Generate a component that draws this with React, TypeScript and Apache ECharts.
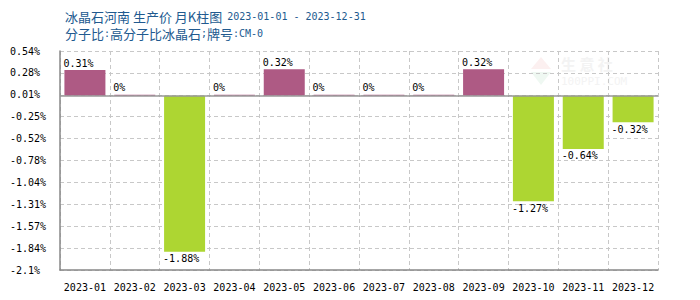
import React, { useEffect, useRef } from "react";
import * as echarts from "echarts";

const categories = ["2023-01","2023-02","2023-03","2023-04","2023-05","2023-06","2023-07","2023-08","2023-09","2023-10","2023-11","2023-12"];
const values = [0.31, 0, -1.88, 0, 0.32, 0, 0, 0, 0.32, -1.27, -0.64, -0.32];
const yTickLabels = ["-2.1%","-1.84%","-1.57%","-1.31%","-1.04%","-0.78%","-0.52%","-0.25%","0.01%","0.28%","0.54%"];
const yMin = -2.1;
const yMax = 0.54;
const titleMain = "冰晶石河南 生产价 月K柱图";
const titleDates = "2023-01-01 - 2023-12-31";
const subtitleParts = ["分子比", ":", "高分子比冰晶石", ";", "牌号", ":CM-0"];

const MONO = "'DejaVu Sans Mono', 'Liberation Mono', monospace";
const CJK = "'Noto Sans CJK SC', sans-serif";
const POS = "#ae5a84";
const NEG = "#add632";
const BAR_W = 41;
const TITLE_C = "#215a8f";

export default function App() {
  const ref = useRef<HTMLDivElement>(null);
  useEffect(() => {
    if (!ref.current) return;
    const chart = echarts.init(ref.current, null, { renderer: "svg" });
    const sub = subtitleParts
      .map((p, i) => (i % 2 === 0 ? `{c|${p}}` : `{m|${p}}`))
      .join("");
    const rich = {
      c: { fontFamily: CJK, fontSize: 13, fontWeight: "normal", color: TITLE_C },
      m: { fontFamily: MONO, fontSize: 10, fontWeight: "normal", color: TITLE_C },
    };
    chart.setOption({
      animation: false,
      title: [
        { left: 60, top: 2, text: `{c|${titleMain}} {m|${titleDates}}`, textStyle: { fontWeight: "normal", rich } },
        { left: 60, top: 22, text: sub, textStyle: { fontWeight: "normal", rich } },
      ],
      graphic: [
        {
          type: "polygon",
          silent: true,
          shape: { points: [[541, 57], [551, 69], [531, 69]] },
          style: { fill: "#fcf0f0" },
        },
        {
          type: "polygon",
          silent: true,
          shape: { points: [[531, 72], [551, 72], [541, 85]] },
          style: { fill: "#eff8f2" },
        },
        {
          type: "text",
          silent: true,
          x: 561,
          y: 56,
          style: { text: "生 意 社", font: `bold 15px ${CJK}`, fill: "#f3f3f3" },
        },
        {
          type: "text",
          silent: true,
          x: 561,
          y: 76,
          style: { text: "100PPI.COM", font: `11px ${MONO}`, fill: "#f3f3f3" },
        },
      ],
      grid: { left: 60, right: 42, top: 51, bottom: 30 },
      xAxis: {
        type: "category",
        data: categories,
        axisLine: { onZero: false, lineStyle: { color: "#888", width: 1.5 } },
        axisTick: { show: false },
        axisLabel: { fontFamily: MONO, fontSize: 10, color: "#000", margin: 12, interval: 0 },
        splitLine: { show: true, lineStyle: { color: "#c8c8c8", type: [4, 3] } },
      },
      yAxis: [
        { type: "value", min: yMin, max: yMax, show: false },
        {
          type: "value",
          min: 0,
          max: yTickLabels.length - 1,
          interval: 1,
          position: "left",
          axisLine: { show: true, lineStyle: { color: "#888", width: 1.5 } },
          axisTick: { show: false },
          axisLabel: {
            fontFamily: MONO,
            fontSize: 10,
            color: "#000",
            align: "left",
            margin: 50,
            formatter: (v: number) => yTickLabels[Math.round(v)] ?? "",
          },
          splitLine: { show: true, lineStyle: { color: "#c8c8c8", type: [4, 3] } },
        },
      ],
      series: [
        {
          type: "bar",
          yAxisIndex: 0,
          barWidth: BAR_W,
          barMinHeight: 1,
          data: values.map((v) => ({
            value: v,
            itemStyle: { color: v >= 0 ? POS : NEG },
            label: {
              show: true,
              position: v >= 0 ? "top" : "bottom",
              align: "left",
              offset: [-BAR_W / 2 - 1, 0],
              distance: 2,
              formatter: `${v}%`,
              fontFamily: MONO,
              fontSize: 10,
              color: "#000",
            },
          })),
          markLine: {
            silent: true,
            symbol: "none",
            label: { show: false },
            lineStyle: { color: "#999", type: "solid", width: 1.5 },
            data: [{ yAxis: 0 }],
          },
          z: 3,
        },
      ],
    });
    return () => chart.dispose();
  }, []);
  return <div ref={ref} style={{ position: "absolute", left: 0, top: 0, width: 700, height: 300 }} />;
}
